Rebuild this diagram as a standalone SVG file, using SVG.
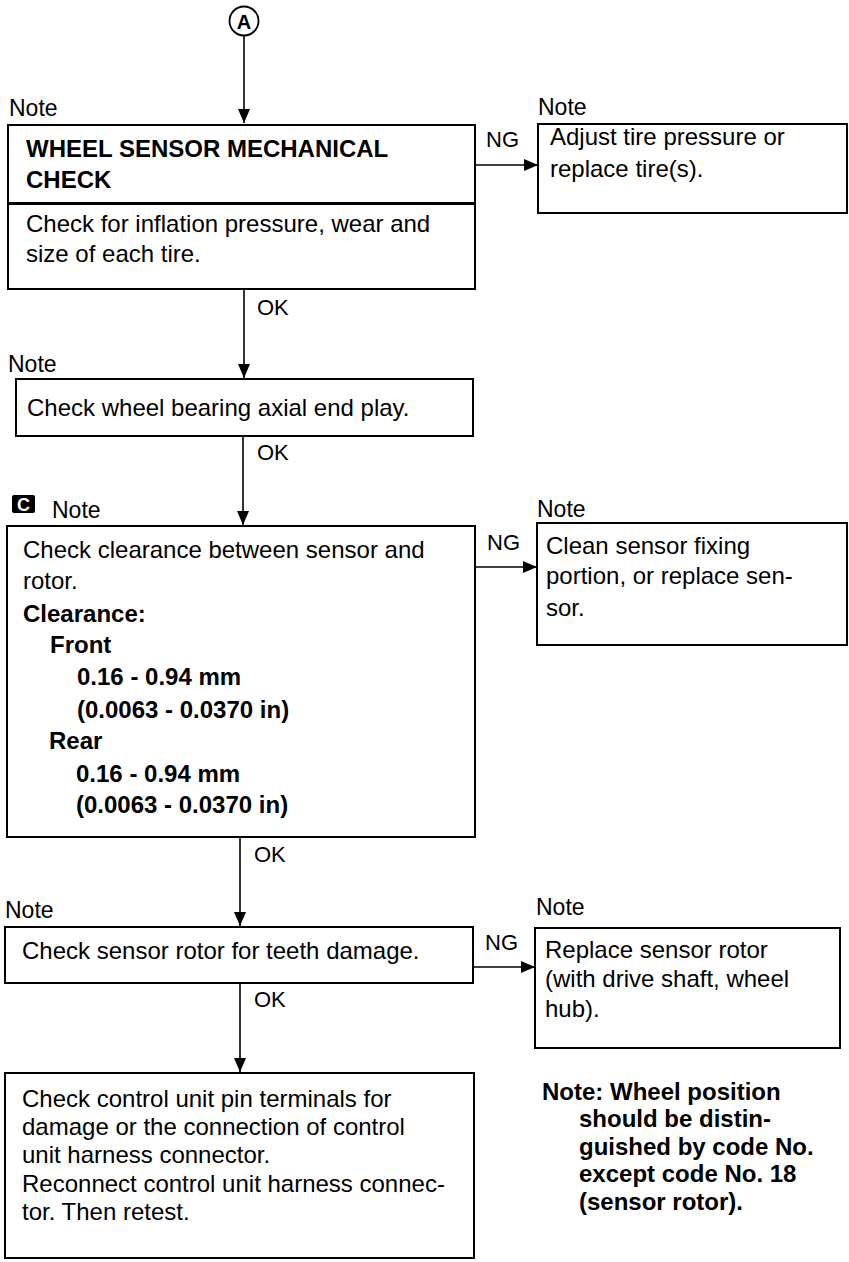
<svg xmlns="http://www.w3.org/2000/svg" width="849" height="1262" viewBox="0 0 849 1262">
<style>
text{font-family:"Liberation Sans",Arial,sans-serif;fill:#000}
.t{font-size:24px}
.b{font-size:24px;font-weight:bold}
.n{font-size:23px}
.l{font-size:22px}
.box{fill:#fff;stroke:#000;stroke-width:2}
.c{stroke:#000;stroke-width:1.6;fill:none}
</style>
<defs>
<marker id="ah" markerUnits="userSpaceOnUse" markerWidth="14" markerHeight="12" refX="14" refY="6" orient="auto">
<path d="M0,0 L14,6 L0,12 Z" fill="#000"/>
</marker>
</defs>
<g id="start">
<circle cx="244" cy="21" r="14.5" fill="#fff" stroke="#000" stroke-width="1.8"/>
<text x="244" y="28.5" text-anchor="middle" style="font-size:20px;font-weight:bold">A</text>
</g>
<g id="connectors">
<line class="c" x1="244" y1="36" x2="244" y2="123" marker-end="url(#ah)"/>
<line class="c" x1="244" y1="290" x2="244" y2="378" marker-end="url(#ah)"/>
<line class="c" x1="243" y1="436" x2="243" y2="525" marker-end="url(#ah)"/>
<line class="c" x1="240" y1="837" x2="240" y2="926" marker-end="url(#ah)"/>
<line class="c" x1="240" y1="983" x2="240" y2="1072" marker-end="url(#ah)"/>
<line class="c" x1="476" y1="165" x2="538" y2="165" marker-end="url(#ah)"/>
<line class="c" x1="475" y1="567" x2="537" y2="567" marker-end="url(#ah)"/>
<line class="c" x1="473" y1="967" x2="535" y2="967" marker-end="url(#ah)"/>
<text class="l" x="257" y="315">OK</text>
<text class="l" x="257" y="460">OK</text>
<text class="l" x="254" y="862">OK</text>
<text class="l" x="254" y="1007">OK</text>
<text class="l" x="486" y="147">NG</text>
<text class="l" x="487" y="550">NG</text>
<text class="l" x="485" y="950">NG</text>
</g>
<g id="wheel-sensor-check">
<text class="n" x="9" y="116">Note</text>
<rect class="box" x="8" y="125" width="467" height="164"/>
<line x1="8" y1="203.5" x2="475" y2="203.5" stroke="#000" stroke-width="3"/>
<text class="b" x="26" y="157">WHEEL SENSOR MECHANICAL</text>
<text class="b" x="26" y="188">CHECK</text>
<text class="t" x="26" y="232">Check for inflation pressure, wear and</text>
<text class="t" x="26" y="262">size of each tire.</text>
</g>
<g id="adjust-tire">
<text class="n" x="538" y="115">Note</text>
<rect class="box" x="538" y="124" width="309" height="89"/>
<text class="t" x="550" y="145">Adjust tire pressure or</text>
<text class="t" x="550" y="177">replace tire(s).</text>
</g>
<g id="wheel-bearing">
<text class="n" x="8" y="372">Note</text>
<rect class="box" x="16" y="379" width="457" height="57"/>
<text class="t" x="27" y="416">Check wheel bearing axial end play.</text>
</g>
<g id="clearance-check">
<rect x="12" y="495" width="23" height="18" rx="2" fill="#000"/>
<text x="23.5" y="511" text-anchor="middle" style="font-size:18px;font-weight:bold;fill:#fff">C</text>
<text class="n" x="52" y="518">Note</text>
<rect class="box" x="7" y="526" width="468" height="311"/>
<text class="t" x="23" y="558">Check clearance between sensor and</text>
<text class="t" x="23" y="589">rotor.</text>
<text class="b" x="23" y="622">Clearance:</text>
<text class="b" x="50" y="653">Front</text>
<text class="b" x="77" y="685">0.16 - 0.94 mm</text>
<text class="b" x="77" y="718">(0.0063 - 0.0370 in)</text>
<text class="b" x="49" y="749">Rear</text>
<text class="b" x="76" y="782">0.16 - 0.94 mm</text>
<text class="b" x="76" y="813">(0.0063 - 0.0370 in)</text>
</g>
<g id="clean-sensor">
<text class="n" x="537" y="517">Note</text>
<rect class="box" x="537" y="523" width="310" height="122"/>
<text class="t" x="546" y="554">Clean sensor fixing</text>
<text class="t" x="546" y="584">portion, or replace sen-</text>
<text class="t" x="546" y="616">sor.</text>
</g>
<g id="rotor-check">
<text class="n" x="5" y="918">Note</text>
<rect class="box" x="5" y="927" width="468" height="56"/>
<text class="t" x="22" y="959">Check sensor rotor for teeth damage.</text>
</g>
<g id="replace-rotor">
<text class="n" x="536" y="915">Note</text>
<rect class="box" x="535" y="928" width="305" height="120"/>
<text class="t" x="545" y="958">Replace sensor rotor</text>
<text class="t" x="545" y="987">(with drive shaft, wheel</text>
<text class="t" x="545" y="1017">hub).</text>
</g>
<g id="control-unit-check">
<rect class="box" x="5" y="1073" width="469" height="185"/>
<text class="t" x="22" y="1107">Check control unit pin terminals for</text>
<text class="t" x="22" y="1135">damage or the connection of control</text>
<text class="t" x="22" y="1163">unit harness connector.</text>
<text class="t" x="22" y="1192">Reconnect control unit harness connec-</text>
<text class="t" x="22" y="1220">tor. Then retest.</text>
</g>
<g id="note-text">
<text class="b" x="542" y="1100">Note: Wheel position</text>
<text class="b" x="579" y="1127">should be distin-</text>
<text class="b" x="579" y="1155">guished by code No.</text>
<text class="b" x="579" y="1182">except code No. 18</text>
<text class="b" x="579" y="1210">(sensor rotor).</text>
</g>
</svg>
